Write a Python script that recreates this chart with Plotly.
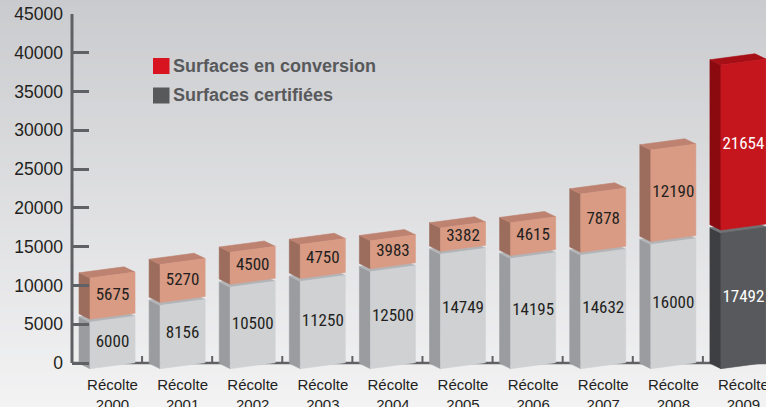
import plotly.graph_objects as go

# ---------------- data ----------------
years = ["2000", "2001", "2002", "2003", "2004", "2005", "2006", "2007", "2008", "2009"]
certified = [6000, 8156, 10500, 11250, 12500, 14749, 14195, 14632, 16000, 17492]
conversion = [5675, 5270, 4500, 4750, 3983, 3382, 4615, 7878, 12190, 21654]
x_labels = ["Récolte<br>" + y for y in years]
y_ticks = [0, 5000, 10000, 15000, 20000, 25000, 30000, 35000, 40000, 45000]
y_ticktext = [str(v) for v in y_ticks]
highlight = [False, False, False, False, False, False, False, False, False, True]
legend_names = ["Surfaces en conversion", "Surfaces certifiées"]

# ---------------- geometry (pixels -> data units) ----------------
W, H = 766, 407
M_L, M_R, M_T, M_B = 72, 0, 14, 37
X_RANGE = [-0.578, 9.322]
Y_RANGE = [-900, 45000]
PW, PH = W - M_L - M_R, H - M_T - M_B
XS = PW / (X_RANGE[1] - X_RANGE[0])
YS = PH / (Y_RANGE[1] - Y_RANGE[0])

UX, UY = 45 / XS, 6 / YS        # width vector of a block (right, slightly up)
VX, VY = 11 / XS, -5.3 / YS     # depth vector toward viewer (right, down)
GAP = 3 / YS                    # small gap between stacked blocks

def px_x(p):
    return (p - M_L) / PW

def px_y(p):
    return (H - M_B - p) / PH

def box(i, b, t):
    cx = i - VX / 2
    def c(su, sv, h):
        return (cx + su * UX / 2 + sv * VX / 2, h + su * UY / 2 + sv * VY / 2)
    FLb, FRb, FRt, FLt = c(-1, 1, b), c(1, 1, b), c(1, 1, t), c(-1, 1, t)
    BLb, BLt, BRt = c(-1, -1, b), c(-1, -1, t), c(1, -1, t)
    return {"side": [BLb, FLb, FLt, BLt], "top": [BLt, BRt, FRt, FLt], "front": [FLb, FRb, FRt, FLt]}

colors = {
    ("cert", False): {"side": "#9b9ca0", "top": "#b3b4b7", "front": "#d0d1d3"},
    ("cert", True): {"side": "#3e3f42", "top": "#727376", "front": "#58595c"},
    ("conv", False): {"side": "#9c6c5c", "top": "#bd8270", "front": "#d99b84"},
    ("conv", True): {"side": "#8b0a0f", "top": "#a60f16", "front": "#c5161e"},
}

fig = go.Figure()

segments = {"cert": [], "conv": []}
for i in range(len(years)):
    segments["cert"].append((i, 0, certified[i], highlight[i]))
    segments["conv"].append((i, certified[i] + GAP, certified[i] + conversion[i], highlight[i]))

for seg in ["cert", "conv"]:
    for face in ["side", "top", "front"]:
        for hl in [False, True]:
            xs, ys = [], []
            for (i, b, t, h) in segments[seg]:
                if h != hl:
                    continue
                poly = box(i, b, t)[face]
                for (x, y) in poly:
                    xs.append(x)
                    ys.append(y)
                xs.append(poly[0][0]); ys.append(poly[0][1])
                xs.append(None); ys.append(None)
            col = colors[(seg, hl)][face]
            fig.add_trace(go.Scatter(x=xs, y=ys, mode="lines", fill="toself",
                                     fillcolor=col, line=dict(color=col, width=0.6),
                                     hoverinfo="skip", showlegend=False))

# value labels, centred on the front faces
lab_font = "Roboto Condensed, DejaVu Sans Condensed, Liberation Sans, sans-serif"
for seg, vals in [("cert", certified), ("conv", conversion)]:
    xs, ys, txt, cols = [], [], [], []
    for (i, b, t, h), v in zip(segments[seg], vals):
        xs.append(i)
        ys.append((b + t) / 2 + VY / 2)
        txt.append(str(v))
        cols.append("#ffffff" if h else "#231f20")
    fig.add_trace(go.Scatter(x=xs, y=ys, mode="text", text=txt,
                             textfont=dict(family=lab_font, size=17, color=cols),
                             hoverinfo="skip", showlegend=False))

# ---------------- background gradient ----------------
shapes = []
N = 70
top_c, bot_c = (202, 203, 206), (243, 243, 244)
for k in range(N):
    f = (k + 0.5) / N
    col = "rgb(%d,%d,%d)" % tuple(round(top_c[j] + (bot_c[j] - top_c[j]) * f) for j in range(3))
    p0, p1 = H * k / N, H * (k + 1) / N + 1
    shapes.append(dict(type="rect", xref="paper", yref="paper", layer="below",
                       x0=px_x(0), x1=px_x(W), y0=px_y(p1), y1=px_y(p0),
                       fillcolor=col, line=dict(width=0)))

axis_col = "#606165"
shapes.append(dict(type="line", xref="paper", yref="y", layer="below",
                   x0=0, x1=0, y0=0, y1=45000, line=dict(color=axis_col, width=3)))
shapes.append(dict(type="line", xref="paper", yref="y", layer="below",
                   x0=0, x1=1, y0=0, y1=0, line=dict(color=axis_col, width=2.5)))
for i in range(len(years) - 1):
    xt = i + 0.5 - VX / 2
    shapes.append(dict(type="line", xref="x", yref="y", layer="below",
                       x0=xt, x1=xt, y0=0, y1=7 / YS, line=dict(color=axis_col, width=2)))

# legend (custom)
leg_cols = ["#d7141f", "#58595b"]
leg_y = [66, 95.5]
annotations = []
for name, col, yc in zip(legend_names, leg_cols, leg_y):
    shapes.append(dict(type="rect", xref="paper", yref="paper",
                       x0=px_x(153), x1=px_x(169.5), y0=px_y(yc + 8), y1=px_y(yc - 8),
                       fillcolor=col, line=dict(width=0)))
    annotations.append(dict(xref="paper", yref="paper", x=px_x(170.5), y=px_y(yc),
                            xanchor="left", yanchor="middle", showarrow=False,
                            text="<b>" + name + "</b>",
                            font=dict(family="Liberation Sans, Arial, sans-serif", size=18, color="#58595b")))

fig.update_layout(
    width=W, height=H,
    margin=dict(l=M_L, r=M_R, t=M_T, b=M_B, pad=0),
    paper_bgcolor="#dcdddf", plot_bgcolor="rgba(0,0,0,0)",
    showlegend=False,
    shapes=shapes, annotations=annotations,
    font=dict(family="Liberation Sans, Arial, sans-serif", color="#231f20"),
    xaxis=dict(range=X_RANGE, tickvals=list(range(len(years))), ticktext=x_labels,
               showgrid=False, zeroline=False, showline=False, ticks="",
               tickfont=dict(size=15, color="#231f20"), ticklabelstandoff=4,
               ticklabeloverflow="allow", fixedrange=True, automargin=False),
    yaxis=dict(range=Y_RANGE, tickvals=y_ticks, ticktext=y_ticktext, showgrid=False, zeroline=False,
               showline=False, ticks="inside", ticklen=17, tickwidth=3, tickcolor=axis_col,
               tickfont=dict(size=17.5, color="#231f20"), ticklabelstandoff=8, fixedrange=True,
               automargin=False),
)

fig.write_html("out.html", config={"displayModeBar": False},
               post_script="document.body.style.margin='0';document.body.style.overflow='hidden';")
